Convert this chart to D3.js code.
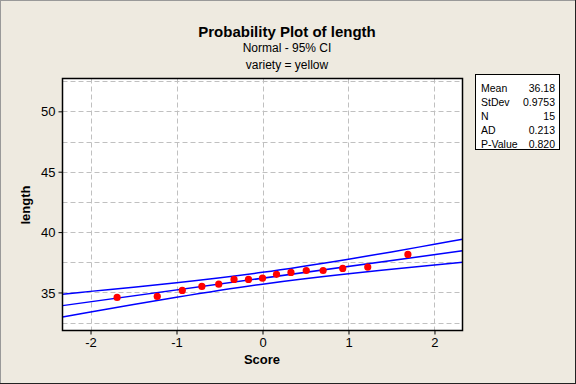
<!DOCTYPE html>
<html><head><meta charset="utf-8">
<script src="https://cdn.jsdelivr.net/npm/d3@7"></script>
<style>body{margin:0;padding:0;}svg{display:block;}</style>
</head><body><svg id="c" width="576" height="384"></svg>
<script>
// ---- data ----
const scores = [-1.691,-1.224,-0.933,-0.705,-0.509,-0.331,-0.163,0,0.163,0.331,0.509,0.705,0.933,1.224,1.691];
const lengths = [34.59,34.67,35.17,35.5,35.69,36.08,36.08,36.18,36.5,36.66,36.82,36.82,36.99,37.1,38.15];
const fitZ = [-2.326, 2.326];
const fitVals = [33.91, 38.45];
const bandZ = [-2.326,-2,-1.5,-1,0,1,1.5,2,2.326];
const upperCI = [34.86,35.09,35.44,35.81,36.67,37.76,38.36,38.99,39.40];
const lowerCI = [32.96,33.38,34.00,34.60,35.69,36.55,36.92,37.28,37.50];
const xTicks = [-2,-1,0,1,2];
const yTicks = [35,40,45,50];
const yGrid = [32.5,35,37.5,40,42.5,45,47.5,50,52.5];
const statLabels = ["Mean","StDev","N","AD","P-Value"];
const statValues = ["36.18","0.9753","15","0.213","0.820"];
const title = "Probability Plot of length";
const subtitles = ["Normal - 95% CI","variety = yellow"];

const svg = d3.select("#c");
const font = "'Liberation Sans', Arial, sans-serif";
svg.append("rect").attr("width",576).attr("height",384).attr("fill","#EEEAE0");
// outer frame
svg.append("line").attr("x1",0.5).attr("y1",0).attr("x2",0.5).attr("y2",384).attr("stroke","#999");
svg.append("line").attr("x1",0).attr("y1",0.5).attr("x2",576).attr("y2",0.5).attr("stroke","#999");
svg.append("line").attr("x1",575.5).attr("y1",0).attr("x2",575.5).attr("y2",384).attr("stroke","#222");
svg.append("line").attr("x1",0).attr("y1",383.5).attr("x2",576).attr("y2",383.5).attr("stroke","#222");

const L=62.5, R=462.5, T=78.5, B=330.5;
const x = d3.scaleLinear().domain([-2.326,2.326]).range([L,R]);
const y = d3.scaleLinear().domain([31.85,52.72]).range([B,T]);

svg.append("rect").attr("x",L).attr("y",T).attr("width",R-L).attr("height",B-T).attr("fill","#fff");

const g = svg.append("g");
g.selectAll(".hg").data(yGrid).enter().append("line")
  .attr("x1",L).attr("x2",R).attr("y1",d=>Math.round(y(d))+0.5).attr("y2",d=>Math.round(y(d))+0.5)
  .attr("stroke","#c0c0c0").attr("stroke-dasharray","5,3");
g.selectAll(".vg").data(xTicks).enter().append("line")
  .attr("y1",T).attr("y2",B).attr("x1",d=>Math.round(x(d))+0.5).attr("x2",d=>Math.round(x(d))+0.5)
  .attr("stroke","#c0c0c0").attr("stroke-dasharray","5,3");

svg.append("clipPath").attr("id","pc").append("rect").attr("x",L).attr("y",T).attr("width",R-L).attr("height",B-T);
const lineG = svg.append("g").attr("clip-path","url(#pc)");
const band = d3.line().x(d=>x(d[0])).y(d=>y(d[1])).curve(d3.curveMonotoneX);
lineG.append("path").attr("d",band(bandZ.map((z,i)=>[z,upperCI[i]]))).attr("fill","none").attr("stroke","#0000ff").attr("stroke-width",1.5);
lineG.append("path").attr("d",band(bandZ.map((z,i)=>[z,lowerCI[i]]))).attr("fill","none").attr("stroke","#0000ff").attr("stroke-width",1.5);
lineG.append("path").attr("d",d3.line().x(d=>x(d[0])).y(d=>y(d[1]))(fitZ.map((z,i)=>[z,fitVals[i]]))).attr("fill","none").attr("stroke","#0000ff").attr("stroke-width",1.5);

lineG.selectAll("circle").data(scores).enter().append("circle")
  .attr("cx",d=>x(d)).attr("cy",(d,i)=>y(lengths[i])).attr("r",3.6).attr("fill","#ff0000");

svg.append("rect").attr("x",L).attr("y",T).attr("width",R-L).attr("height",B-T).attr("fill","none").attr("stroke","#000").attr("stroke-width",1.5);

// axes
const xa = svg.append("g").attr("transform",`translate(0,${B})`)
  .call(d3.axisBottom(x).tickValues(xTicks).tickSize(4).tickPadding(3).tickFormat(d=>String(d)));
const ya = svg.append("g").attr("transform",`translate(${L},0)`)
  .call(d3.axisLeft(y).tickValues(yTicks).tickSize(4).tickPadding(3).tickFormat(d=>String(d)));
[xa,ya].forEach(a=>{
  a.select(".domain").remove();
  a.selectAll("line").attr("stroke","#000");
  a.selectAll("text").attr("font-family",font).attr("font-size",13).attr("fill","#000");
});
ya.selectAll("text").attr("dy","0.35em");

svg.append("text").attr("x",262).attr("y",364).attr("text-anchor","middle").attr("font-family",font)
  .attr("font-weight","bold").attr("font-size",13).text("Score");
svg.append("text").attr("transform","translate(30,205) rotate(-90)").attr("text-anchor","middle").attr("font-family",font)
  .attr("font-weight","bold").attr("font-size",13).text("length");

svg.append("text").attr("x",287).attr("y",37).attr("text-anchor","middle").attr("font-family",font)
  .attr("font-weight","bold").attr("font-size",15).text(title);
svg.selectAll(".sub").data(subtitles).enter().append("text").attr("x",287).attr("y",(d,i)=>52+i*17)
  .attr("text-anchor","middle").attr("font-family",font).attr("font-size",12).text(d=>d);

// stats box
svg.append("rect").attr("x",475.5).attr("y",74.5).attr("width",84).attr("height",75).attr("fill","#fff").attr("stroke","#000");
svg.selectAll(".sl").data(statLabels).enter().append("text").attr("x",481).attr("y",(d,i)=>92+i*14)
  .attr("font-family",font).attr("font-size",10.5).text(d=>d);
svg.selectAll(".sv").data(statValues).enter().append("text").attr("x",555).attr("y",(d,i)=>92+i*14)
  .attr("text-anchor","end").attr("font-family",font).attr("font-size",10.5).text(d=>d);
</script></body></html>
